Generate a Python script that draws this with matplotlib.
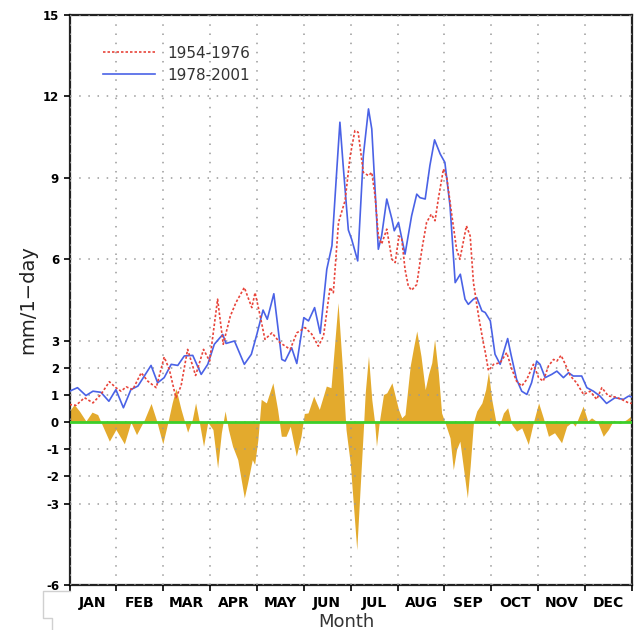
import matplotlib
matplotlib.use("Agg")
import matplotlib.pyplot as plt
from matplotlib.lines import Line2D

# ========================================================
# DATA (x in months since 1 Jan, values in mm/1-day)

MONTHS = ["JAN", "FEB", "MAR", "APR", "MAY", "JUN",
          "JUL", "AUG", "SEP", "OCT", "NOV", "DEC"]
Y_TICKS = [-6, -3, -2, -1, 0, 1, 2, 3, 6, 9, 12, 15]

old_x = [0.00, 0.14, 0.32, 0.50, 0.67, 0.85, 0.99, 1.10, 1.21, 1.35, 1.53, 1.67,
         1.85, 2.02, 2.13, 2.27, 2.38, 2.52, 2.69, 2.86, 2.99, 3.16, 3.28, 3.43,
         3.55, 3.73, 3.89, 3.96, 4.07, 4.17, 4.32, 4.49, 4.71, 4.85, 5.03, 5.17,
         5.31, 5.42, 5.56, 5.63, 5.74, 5.88, 5.99, 6.09, 6.16, 6.27, 6.38, 6.45,
         6.52, 6.59, 6.66, 6.77, 6.88, 6.95, 7.03, 7.09, 7.16, 7.23, 7.30, 7.41,
         7.52, 7.62, 7.72, 7.80, 7.87, 7.98, 8.05, 8.16, 8.26, 8.33, 8.47, 8.55,
         8.62, 8.73, 8.83, 8.87, 8.94, 9.05, 9.19, 9.33, 9.44, 9.54, 9.65, 9.76,
         9.90, 10.01, 10.11, 10.22, 10.33, 10.40, 10.49, 10.58, 10.69, 10.82,
         10.97, 11.11, 11.25, 11.36, 11.50, 11.64, 11.78, 11.93, 12.00]
old_y = [0.65, 0.62, 0.90, 0.71, 1.02, 1.49, 1.27, 1.14, 1.30, 1.20, 1.82, 1.51,
         1.27, 2.40, 1.94, 0.90, 1.33, 2.68, 1.72, 2.68, 2.25, 4.53, 2.87, 3.90,
         4.40, 4.96, 4.22, 4.77, 3.90, 3.05, 3.29, 2.93, 2.68, 3.29, 3.48, 3.24,
         2.80, 3.17, 4.96, 4.77, 7.36, 8.16, 9.82, 10.74, 10.68, 9.20, 9.08, 9.20,
         8.34, 6.86, 6.56, 7.11, 6.00, 5.88, 6.86, 6.74, 5.63, 5.01, 4.86, 5.07,
         6.37, 7.36, 7.66, 7.42, 8.22, 9.33, 9.02, 7.60, 6.37, 6.00, 7.23, 6.86,
         5.14, 3.90, 2.93, 2.60, 1.90, 2.13, 2.19, 2.56, 1.95, 1.51, 1.33, 1.58,
         2.13, 1.64, 1.51, 2.07, 2.31, 2.25, 2.46, 2.13, 1.70, 1.45,
         1.02, 1.14, 0.84, 1.27, 0.96, 0.93, 0.84, 0.71, 0.69]

new_x = [0.00, 0.17, 0.35, 0.50, 0.67, 0.84, 0.99, 1.15, 1.31, 1.46, 1.74, 1.88,
         2.02, 2.17, 2.31, 2.45, 2.63, 2.81, 2.95, 3.09, 3.27, 3.34, 3.52, 3.73,
         3.88, 4.00, 4.13, 4.22, 4.36, 4.53, 4.60, 4.74, 4.85, 5.00, 5.10, 5.23,
         5.35, 5.49, 5.60, 5.70, 5.77, 5.84, 5.95, 6.02, 6.15, 6.27, 6.38, 6.45,
         6.52, 6.59, 6.66, 6.77, 6.88, 6.93, 7.02, 7.16, 7.30, 7.41, 7.48, 7.59,
         7.69, 7.79, 7.91, 8.01, 8.12, 8.23, 8.34, 8.44, 8.51, 8.62, 8.69, 8.80,
         8.87, 8.98, 9.08, 9.19, 9.26, 9.35, 9.42, 9.54, 9.65, 9.76, 9.86, 9.97,
         10.04, 10.15, 10.29, 10.40, 10.54, 10.65, 10.75, 10.93, 11.04, 11.18,
         11.32, 11.46, 11.64, 11.82, 11.93, 12.00]
new_y = [1.14, 1.27, 0.98, 1.14, 1.10, 0.77, 1.20, 0.53, 1.20, 1.33, 2.09, 1.45,
         1.64, 2.13, 2.09, 2.44, 2.46, 1.76, 2.13, 2.87, 3.23, 2.90, 2.99, 2.13,
         2.50, 3.25, 4.13, 3.79, 4.73, 2.31, 2.25, 2.74, 2.16, 3.85, 3.73, 4.22,
         3.27, 5.63, 6.50, 9.20, 11.05, 9.45, 7.08, 6.74, 5.94, 9.82, 11.54, 10.80,
         8.58, 6.37, 6.86, 8.22, 7.48, 7.05, 7.36, 6.19, 7.60, 8.40, 8.27, 8.22,
         9.45, 10.40, 9.88, 9.57, 7.97, 5.14, 5.45, 4.53, 4.34, 4.53, 4.59, 4.10,
         4.04, 3.73, 2.50, 2.13, 2.56, 3.08, 2.50, 1.58, 1.14, 1.02, 1.45, 2.25,
         2.13, 1.64, 1.76, 1.88, 1.64, 1.82, 1.70, 1.70, 1.27, 1.14,
         0.96, 0.69, 0.90, 0.84, 0.96, 0.93]

diff_x = [0.00, 0.10, 0.21, 0.35, 0.48, 0.60, 0.74, 0.85, 0.99, 1.17, 1.31, 1.43,
          1.60, 1.74, 1.85, 1.99, 2.10, 2.19, 2.27, 2.38, 2.52, 2.62, 2.69, 2.77,
          2.86, 2.95, 3.06, 3.16, 3.24, 3.32, 3.39, 3.48, 3.59, 3.73, 3.80, 3.90,
          3.95, 4.02, 4.09, 4.20, 4.34, 4.44, 4.52, 4.62, 4.71, 4.84, 4.94, 5.01,
          5.09, 5.21, 5.33, 5.48, 5.58, 5.73, 5.83, 5.90, 5.99, 6.06, 6.13, 6.20,
          6.27, 6.31, 6.38, 6.45, 6.51, 6.55, 6.61, 6.70, 6.77, 6.88, 6.95, 7.02,
          7.09, 7.16, 7.27, 7.34, 7.41, 7.50, 7.59, 7.66, 7.73, 7.79, 7.87, 7.94,
          8.01, 8.12, 8.19, 8.26, 8.33, 8.43, 8.49, 8.55, 8.62, 8.69, 8.80, 8.88,
          8.94, 9.01, 9.10, 9.17, 9.26, 9.35, 9.44, 9.54, 9.65, 9.79, 9.90, 10.01,
          10.11, 10.22, 10.35, 10.50, 10.61, 10.72, 10.79, 10.86, 10.96, 11.06,
          11.14, 11.27, 11.39, 11.50, 11.61, 11.75, 11.89, 12.00]
diff_y = [0.41, 0.65, 0.41, 0.04, 0.37, 0.28, -0.27, -0.70, -0.27, -0.80, 0.00, -0.46,
          0.10, 0.69, 0.10, -0.80, 0.00, 0.71, 1.24, 0.47, -0.37, 0.10, 0.71, 0.00,
          -0.89, 0.00, -0.27, -1.69, -0.39, 0.41, -0.27, -0.89, -1.38, -2.79, -2.24, -1.38,
          -1.56, -0.64, 0.84, 0.71, 1.45, 0.47, -0.52, -0.52, -0.15, -1.25, -0.52, 0.32,
          0.34, 0.96, 0.47, 1.33, 1.27, 4.40, 1.82, -0.27, -1.50, -3.10, -4.70, -2.48,
          -0.27, 1.08, 2.44, 0.84, 0.00, -0.89, 0.00, 1.02, 1.08, 1.45, 0.96, 0.47,
          0.16, 0.28, 2.07, 2.74, 3.36, 2.44, 1.20, 1.76, 2.19, 3.05, 1.82, 0.34,
          0.00, -0.58, -1.75, -1.00, -0.70, -2.00, -2.79, -1.62, 0.00, 0.41, 0.71, 1.20,
          1.85, 0.84, 0.00, -0.15, 0.34, 0.53, -0.09, -0.33, -0.21, -0.82, 0.00, 0.71,
          0.16, -0.52, -0.39, -0.76, -0.15, 0.00, -0.15, 0.16, 0.59, 0.04,
          0.16, 0.00, -0.52, -0.27, 0.07, -0.05, 0.10, 0.25]


# ========================================================
# PLOT

fig = plt.figure(figsize=(6.39, 6.30), dpi=100)
ax = fig.add_axes([0.1088, 0.0714, 0.880, 0.9048])

ax.fill_between(diff_x, 0, diff_y, color="#e3aa2d", lw=0, zorder=1)
ax.axhline(0, color="#3ccf2a", lw=2, zorder=2.8)
l_old, = ax.plot(old_x, old_y, color="#e8443a", lw=1.2,
                 linestyle=(0, (1.5, 1.2)), zorder=3.2, label="1954-1976",
                 dash_joinstyle="round")
l_new, = ax.plot(new_x, new_y, color="#4a62e6", lw=1.2, zorder=3,
                 label="1978-2001", solid_joinstyle="round")

ax.set_xlim(0, 12)
ax.set_ylim(-6, 15)
ax.set_yticks(Y_TICKS)
ax.set_yticklabels([str(t) for t in Y_TICKS], fontsize=8.5, fontweight="bold")
ax.set_xticks(range(13))
ax.set_xticklabels([])
ax.set_xticks([i + 0.5 for i in range(12)], minor=True)
ax.set_xticklabels(MONTHS, minor=True, fontsize=10, fontweight="bold")
ax.tick_params(axis="x", which="minor", length=0, pad=8)
ax.tick_params(axis="x", which="major", direction="out", length=4, width=1.2)
ax.tick_params(axis="y", direction="out", length=4, width=1.2)

ax.set_axisbelow(False)
ax.grid(True, which="major", color="#9a9a9a", lw=1.1, linestyle=(0, (1, 5)))
for sp in ax.spines.values():
    sp.set_linewidth(1.6)
    sp.set_color("#222222")

ax.set_ylabel("mm/1\u2212day", fontsize=14, color="#222222", labelpad=4)
fig.text(346 / 639, 1 - 622 / 630, "Month", fontsize=13, color="#333333",
         ha="center", va="center")

ax.legend(handles=[l_old, l_new], loc="upper left", bbox_to_anchor=(0.035, 0.97),
          frameon=False, fontsize=11, handlelength=3.4, handletextpad=0.8,
          labelspacing=0.45, labelcolor="#333333")

# faint frame remnant under the axis labels
box = Line2D([70, 43, 43, 52, 52], [39, 39, 12, 12, 0], color="#d0d0d0", lw=1,
             transform=None)
fig.add_artist(box)

fig.savefig("out.png", dpi=100)
